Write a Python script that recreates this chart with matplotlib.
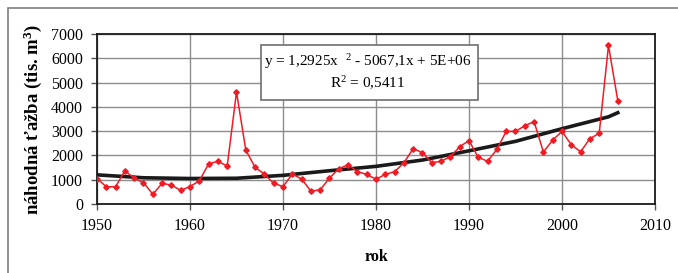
import numpy as np
import matplotlib.pyplot as plt
from matplotlib.patches import Rectangle

plt.rcParams['font.family'] = ['Liberation Serif', 'DejaVu Serif']
plt.rcParams['mathtext.default'] = 'regular'

# nahodna tazba (tis. m3) by year
years = list(range(1950, 2007))
tazba = [1050, 710, 710, 1370, 1060, 880, 400, 850, 780, 560,
         720, 950, 1650, 1760, 1560, 4610, 2220, 1510, 1230, 850,
         720, 1230, 1030, 530, 580, 1070, 1450, 1620, 1330, 1220,
         1020, 1220, 1330, 1700, 2280, 2110, 1700, 1760, 1950, 2360,
         2610, 1920, 1760, 2250, 2990, 2990, 3220, 3390, 2140, 2630,
         2990, 2440, 2150, 2690, 2910, 6530, 4250]

# polynomial trendline as drawn in the chart
trend_years = [1950, 1955, 1960, 1965, 1970, 1975, 1980, 1985, 1990, 1995, 2000, 2005, 2006]
trend_vals = [1200, 1080, 1050, 1060, 1180, 1370, 1550, 1810, 2190, 2580, 3100, 3590, 3760]

eq_line1 = "y = 1,2925x  $^{2}$ - 5067,1x + 5E+06"
eq_line2 = "R$^{2}$ = 0,5411"

fig = plt.figure(figsize=(6.78, 2.73), dpi=100)
ax = fig.add_axes([97/678, 1 - 204/273, 558/678, 170/273])

# outer chart frame (cut off at right/bottom like the source)
fig.patches.append(Rectangle((8/678, -0.1), 1.2, 1 - 8/273 + 0.1, transform=fig.transFigure,
                             fill=False, edgecolor='#7f7f7f', linewidth=1.2))

ax.plot(trend_years, trend_vals, color='#1a1a1a', linewidth=2.6, zorder=3)
ax.plot(years, tazba, color='#ee1c25', linewidth=1.1, marker='D', markersize=2.8,
        markerfacecolor='#ee1c25', markeredgecolor='#ee1c25', zorder=4)

ax.set_xlim(1950, 2010)
ax.set_ylim(0, 7000)
ax.set_xticks(range(1950, 2011, 10))
ax.set_yticks(range(0, 7001, 1000))
ax.grid(True, color='#8c8c8c', linewidth=1.0)
ax.set_axisbelow(True)
for s in ax.spines.values():
    s.set_color('#1a1a1a')
    s.set_linewidth(1.3)
ax.tick_params(direction='out', length=4, width=1, color='#555555', labelsize=11.5, pad=6)

ax.set_xlabel('rok', fontsize=11.5, fontweight='bold', labelpad=11)
ax.set_ylabel('náhodná ťažba (tis. m$^{3}$)', fontsize=13.5, fontweight='bold', labelpad=5)

# equation box
fig.patches.append(Rectangle((261/678, 1 - 100/273), 217/678, 55/273, transform=fig.transFigure,
                             facecolor='white', edgecolor='#6e6e6e', linewidth=1.2, zorder=5))
fig.text(368/678, 1 - 62/273, eq_line1, ha='center', va='center', fontsize=11, zorder=6)
fig.text(368/678, 1 - 83/273, eq_line2, ha='center', va='center', fontsize=11, zorder=6)

fig.savefig('out.png', dpi=100)
